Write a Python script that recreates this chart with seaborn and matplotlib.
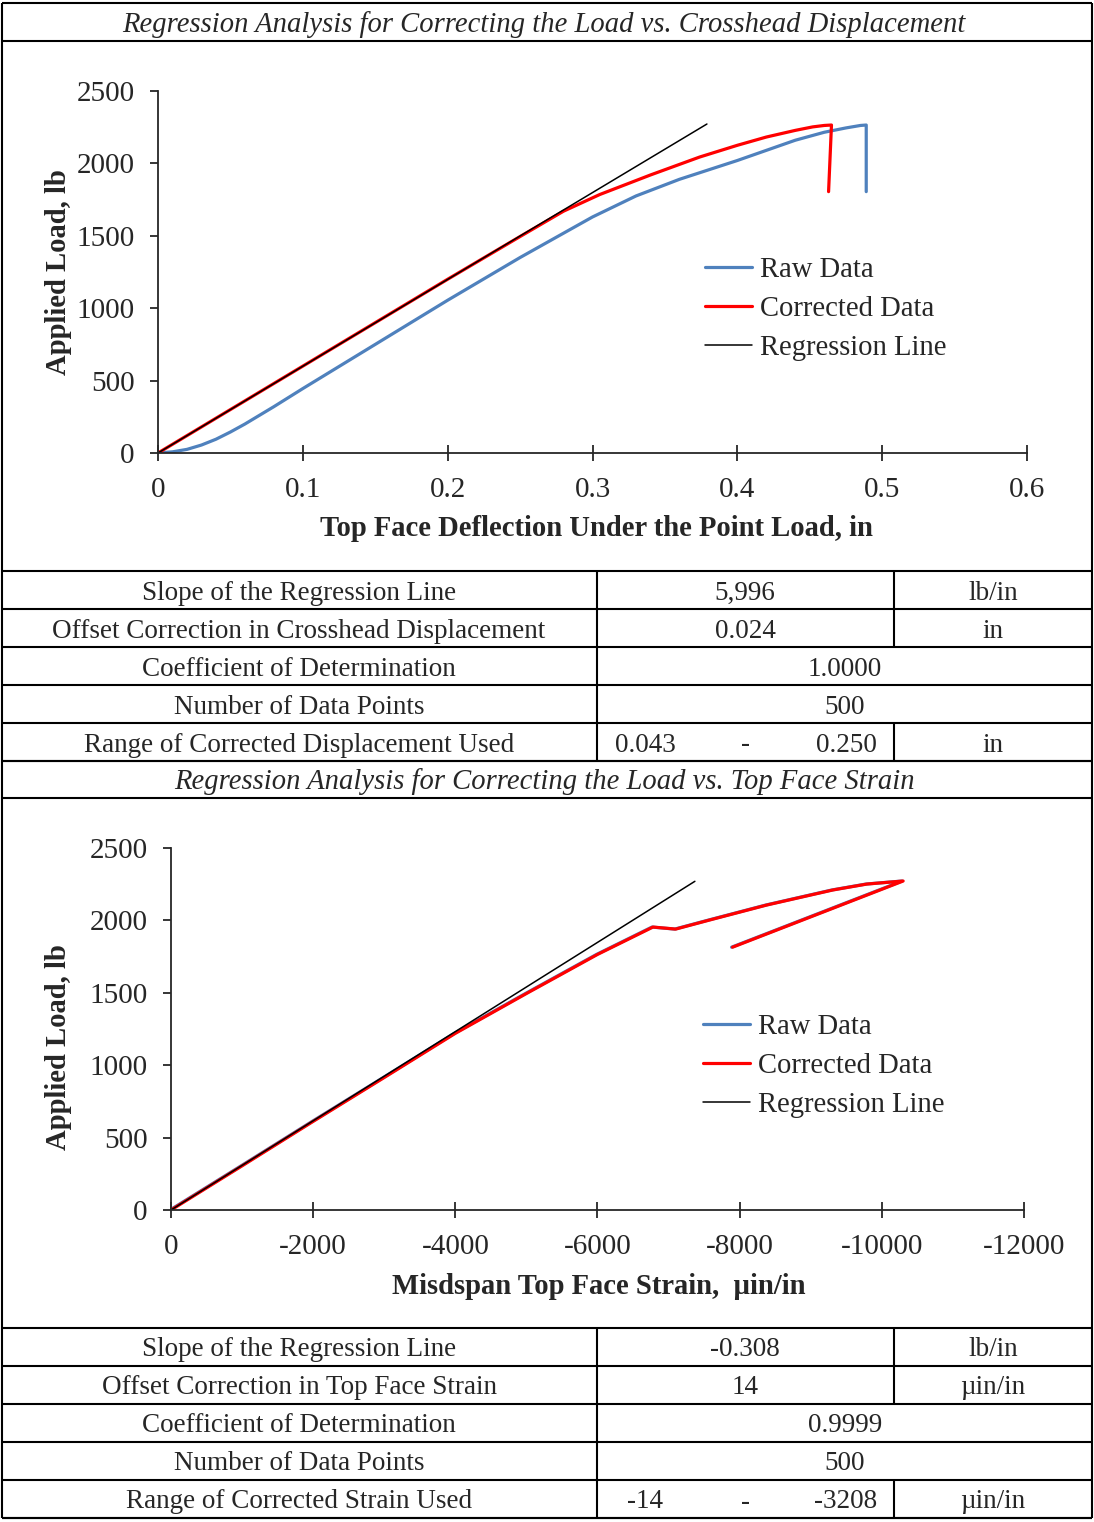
import pandas as pd
import matplotlib
matplotlib.use("Agg")
import matplotlib.pyplot as plt
import seaborn as sns

# ---- load vs crosshead displacement (in, lb) ----
raw_disp = [0, 0.01, 0.02, 0.03, 0.04, 0.05, 0.06, 0.07, 0.08, 0.10, 0.15, 0.20,
            0.25, 0.30, 0.33, 0.36, 0.40, 0.42, 0.44, 0.46, 0.475, 0.485, 0.489, 0.489]
raw_load = [0, 8, 25, 55, 95, 145, 200, 260, 320, 445, 750, 1055,
            1350, 1630, 1775, 1890, 2020, 2090, 2160, 2215, 2245, 2262, 2265, 1805]
corr_disp = [0, 0.05, 0.10, 0.15, 0.20, 0.25, 0.28, 0.305, 0.34, 0.374, 0.40,
             0.42, 0.44, 0.452, 0.46, 0.465, 0.463]
corr_load = [0, 300, 600, 900, 1200, 1495, 1670, 1785, 1920, 2044, 2125,
             2182, 2228, 2252, 2262, 2265, 1805]
reg_disp = [0, 0.379]
reg_load_1 = [0, 2272]

# ---- load vs top face strain (µin/in, lb) ----
raw_strain = [14, -986, -1986, -2986, -3986, -4986, -5986, -6766, -7086, -7566,
              -8366, -9296, -9776, -10286, -7886]
corr_strain = [0, -1000, -2000, -3000, -4000, -5000, -6000, -6780, -7100, -7580,
               -8380, -9310, -9790, -10300, -7900]
strain_load = [0, 305, 612, 915, 1220, 1495, 1765, 1954, 1940, 2003,
               2106, 2210, 2251, 2272, 1815]
reg_strain = [0, -7370]
reg_load_2 = [0, 2270]

# ---- tables ----
table1_labels = ["Slope of the Regression Line",
                 "Offset Correction in Crosshead Displacement",
                 "Coefficient of Determination",
                 "Number of Data Points",
                 "Range of Corrected Displacement Used"]
table1_values = ["5,996", "0.024", "1.0000", "500", ("0.043", "0.250")]
table1_units = ["lb/in", "in", "", "", "in"]

table2_labels = ["Slope of the Regression Line",
                 "Offset Correction in Top Face Strain",
                 "Coefficient of Determination",
                 "Number of Data Points",
                 "Range of Corrected Strain Used"]
table2_values = ["-0.308", "14", "0.9999", "500", ("-14", "-3208")]
table2_units = ["lb/in", "µin/in", "", "", "µin/in"]

title1 = "Regression Analysis for Correcting the Load vs. Crosshead Displacement"
title2 = "Regression Analysis for Correcting the Load vs. Top Face Strain"

BLUE = "#4F81BD"
RED = "#FF0000"
FS_TAB = 19.5
FS = 20.6

sns.set_style("white")
plt.rcParams["font.family"] = ["Liberation Serif", "DejaVu Serif"]

W, H = 1094, 1522
fig = plt.figure(figsize=(W / 100, H / 100), dpi=100)

# overlay in pixel coordinates for frame, titles and tables
ov = fig.add_axes([0, 0, 1, 1])
ov.set_xlim(0, W)
ov.set_ylim(H, 0)
ov.axis("off")
LW = 1.5
ov.vlines([2, 1092], 3, 1518, color="black", lw=LW)
ov.hlines([3, 41, 571, 761, 798, 1328, 1518], 2, 1092, color="black", lw=LW)
ov.text(544, 25, title1, ha="center", va="center", style="italic", fontsize=FS)
ov.text(544, 782, title2, ha="center", va="center", style="italic", fontsize=FS)


def draw_table(top, labels, values, units):
    row_h = 38
    for i, (lab, val, unit) in enumerate(zip(labels, values, units)):
        y0 = top + i * row_h
        yc = y0 + row_h / 2 + 3
        ov.hlines(y0 + row_h, 2, 1092, color="black", lw=LW)
        ov.vlines(597, y0, y0 + row_h, color="black", lw=LW)
        ov.text(299, yc, lab, ha="center", va="center", fontsize=FS_TAB)
        if isinstance(val, tuple):
            ov.text(645, yc, val[0], ha="center", va="center", fontsize=FS_TAB)
            ov.text(745, yc, "-", ha="center", va="center", fontsize=FS_TAB)
            ov.text(877, yc, val[1], ha="right", va="center", fontsize=FS_TAB)
        elif unit:
            ov.text(745, yc, val, ha="center", va="center", fontsize=FS_TAB)
        else:
            ov.text(845, yc, val, ha="center", va="center", fontsize=FS_TAB)
        if unit:
            ov.vlines(894, y0, y0 + row_h, color="black", lw=LW)
            ov.text(993, yc, unit, ha="center", va="center", fontsize=FS_TAB)


draw_table(571, table1_labels, table1_values, table1_units)
draw_table(1328, table2_labels, table2_values, table2_units)


def draw_chart(rect, raw_x, raw_y, cor_x, cor_y, reg_x, reg_y, xlim, xticks,
               xticklabels, xlabel, xlab_pos, ylab_x, ylab_y, leg_xy):
    ax = fig.add_axes(rect)
    sns.lineplot(x=raw_x, y=raw_y, sort=False, estimator=None, color=BLUE,
                 lw=2.3, ax=ax, label="Raw Data")
    sns.lineplot(x=cor_x, y=cor_y, sort=False, estimator=None, color=RED,
                 lw=2.3, ax=ax, label="Corrected Data")
    sns.lineplot(x=reg_x, y=reg_y, sort=False, estimator=None, color="black",
                 lw=1.1, ax=ax, label="Regression Line")
    ax.set_xlim(*xlim)
    ax.set_ylim(0, 2500)
    ax.set_xticks(xticks)
    ax.set_xticklabels(xticklabels)
    ax.set_yticks(range(0, 2501, 500))
    ax.set_yticklabels([str(v) for v in range(0, 2501, 500)])
    for s in ["top", "right"]:
        ax.spines[s].set_visible(False)
    for s in ["left", "bottom"]:
        ax.spines[s].set_linewidth(1.3)
    ax.tick_params(axis="y", direction="out", length=6, width=1.3, pad=11,
                   labelsize=21, left=True)
    ax.tick_params(axis="x", direction="inout", length=12, width=1.3, pad=11,
                   labelsize=21, bottom=True)
    ax.set_xlabel(xlabel, fontsize=FS, fontweight="bold")
    ax.xaxis.set_label_coords(*xlab_pos)
    ax.set_ylabel("Applied Load, lb", fontsize=FS, fontweight="bold")
    ax.yaxis.set_label_coords(ylab_x, ylab_y)
    ax.legend(loc="upper left", bbox_to_anchor=leg_xy,
              bbox_transform=fig.transFigure, frameon=False, fontsize=FS,
              handlelength=1.65, handletextpad=0.28, labelspacing=0.46,
              borderpad=0, borderaxespad=0)
    ax.patch.set_alpha(0)
    return ax


draw_chart([158 / W, 1 - 453 / H, 869 / W, 362 / H],
           raw_disp, raw_load, corr_disp, corr_load, reg_disp, reg_load_1,
           (0, 0.6), [0, 0.1, 0.2, 0.3, 0.4, 0.5, 0.6],
           ["0", "0.1", "0.2", "0.3", "0.4", "0.5", "0.6"],
           "Top Face Deflection Under the Point Load, in",
           (0.505, -0.172), -0.099, 0.5, (705 / W, 1 - 257 / H))

draw_chart([171 / W, 1 - 1210 / H, 853 / W, 362 / H],
           raw_strain, strain_load, corr_strain, strain_load, reg_strain, reg_load_2,
           (0, -12000), [0, -2000, -4000, -6000, -8000, -10000, -12000],
           ["0", "-2000", "-4000", "-6000", "-8000", "-10000", "-12000"],
           "Misdspan Top Face Strain,  µin/in",
           (0.502, -0.175), -0.116, 0.45, (703 / W, 1 - 1014 / H))

fig.savefig("out.png", dpi=100)
